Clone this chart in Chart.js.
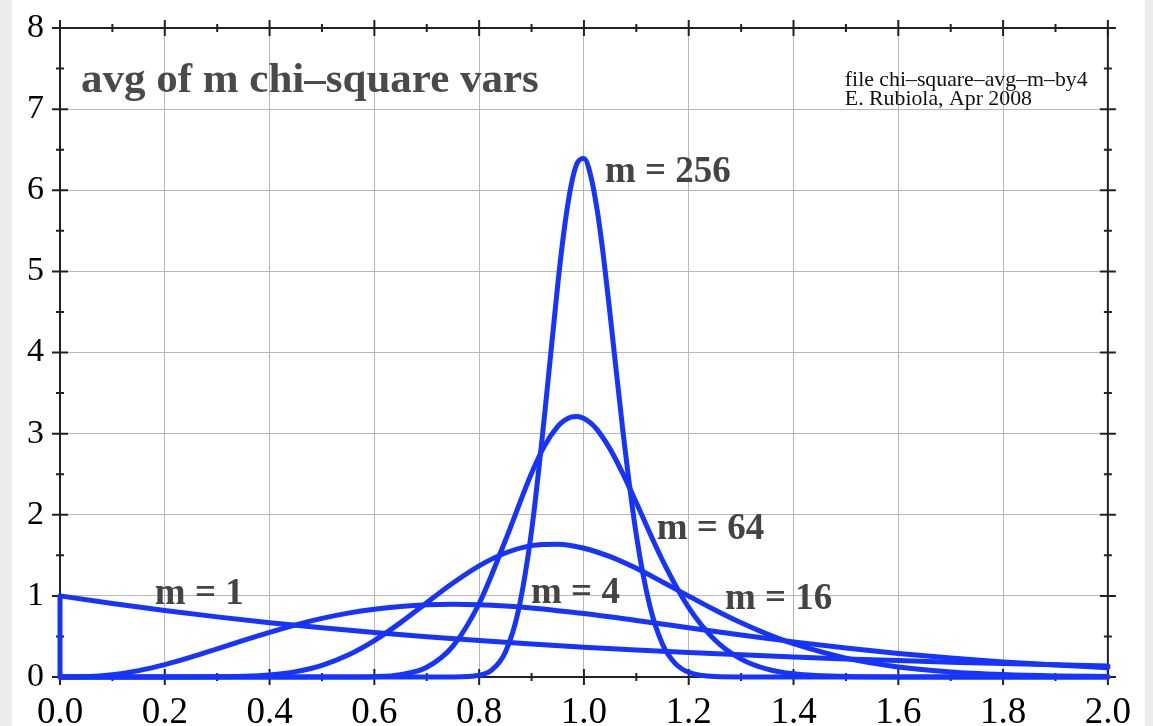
<!DOCTYPE html>
<html>
<head>
<meta charset="utf-8">
<script src="https://cdn.jsdelivr.net/npm/chart.js@4.4.1/dist/chart.umd.min.js"></script>
<style>
  html, body { margin: 0; padding: 0; background: #ececec; }
  #wrap { position: absolute; left: 12px; top: 0; width: 1133px; height: 726px; background: #fff; }
</style>
</head>
<body>
<div id="wrap"><canvas id="chart" width="1133" height="726"></canvas></div>
<script>
// values (x = average, y = density)
const x1 = [0, 0, 0.1, 0.2, 0.3, 0.4, 0.5, 0.6, 0.7, 0.8, 0.9, 1.0, 1.1, 1.2, 1.3, 1.4, 1.5, 1.6, 1.7, 1.8, 1.9, 2.0];
const y1 = [0, 1, 0.905, 0.819, 0.741, 0.670, 0.607, 0.549, 0.497, 0.449, 0.407, 0.368, 0.333, 0.301, 0.273, 0.247, 0.223, 0.202, 0.183, 0.165, 0.150, 0.135];

const x4 = [0, 0.05, 0.1, 0.15, 0.2, 0.25, 0.3, 0.35, 0.4, 0.45, 0.5, 0.55, 0.6, 0.65, 0.7, 0.75, 0.8, 0.85, 0.9, 0.95, 1.0, 1.1, 1.2, 1.3, 1.4, 1.5, 1.6, 1.7, 1.8, 1.9, 2.0];
const y4 = [0, 0.004, 0.029, 0.079, 0.153, 0.245, 0.347, 0.451, 0.551, 0.643, 0.722, 0.787, 0.836, 0.870, 0.890, 0.896, 0.891, 0.875, 0.850, 0.818, 0.782, 0.697, 0.607, 0.517, 0.433, 0.357, 0.290, 0.234, 0.186, 0.147, 0.115];

const x16 = [0, 0.1, 0.2, 0.3, 0.35, 0.4, 0.45, 0.5, 0.55, 0.6, 0.65, 0.7, 0.75, 0.8, 0.85, 0.9, 0.95, 1.0, 1.05, 1.1, 1.15, 1.2, 1.25, 1.3, 1.35, 1.4, 1.5, 1.6, 1.7, 1.8, 1.9, 2.0];
const y16 = [0, 0, 0, 0.002, 0.008, 0.025, 0.066, 0.144, 0.271, 0.449, 0.670, 0.916, 1.158, 1.370, 1.528, 1.619, 1.637, 1.587, 1.483, 1.339, 1.171, 0.997, 0.826, 0.668, 0.529, 0.410, 0.233, 0.124, 0.062, 0.030, 0.013, 0.006];

const x64 = [0, 0.5, 0.55, 0.6, 0.65, 0.7, 0.75, 0.8, 0.85, 0.9, 0.925, 0.95, 0.9625, 0.975, 0.9875, 1.0, 1.0125, 1.025, 1.05, 1.075, 1.1, 1.15, 1.2, 1.25, 1.3, 1.35, 1.4, 1.5, 1.6, 2.0];
const y64 = [0, 0, 0.0005, 0.004, 0.028, 0.121, 0.381, 0.906, 1.682, 2.512, 2.852, 3.089, 3.161, 3.203, 3.211, 3.187, 3.132, 3.050, 2.809, 2.497, 2.147, 1.439, 0.856, 0.457, 0.221, 0.097, 0.039, 0.005, 0.0005, 0];

const x256 = [0, 0.7, 0.75, 0.8, 0.825, 0.85, 0.875, 0.9, 0.925, 0.95, 0.9625, 0.975, 0.9875, 1.0, 1.0125, 1.025, 1.0375, 1.05, 1.075, 1.1, 1.125, 1.15, 1.175, 1.2, 1.25, 1.3, 2.0];
const y256 = [0, 0, 0.0006, 0.021, 0.091, 0.305, 0.823, 1.800, 3.238, 4.836, 5.523, 6.043, 6.340, 6.392, 6.191, 5.766, 5.171, 4.464, 2.995, 1.749, 0.895, 0.404, 0.162, 0.058, 0.005, 0.0003, 0];

// curve labels: text, x, y (data coords of baseline start)
const curveLabels = [
    ['m = 256', 1.040, 6.10],
    ['m = 64', 1.139, 1.703],
    ['m = 16', 1.269, 0.838],
    ['m = 4', 0.899, 0.91],
    ['m = 1', 0.181, 0.90],
];

const BLUE = '#1634ff';
const SERIF = '"Liberation Serif", "Times New Roman", serif';

function pts(xs, ys) {
    return xs.map((x, i) => ({ x: x, y: ys[i] }));
}

function curve(xs, ys, smooth) {
    return {
        data: pts(xs, ys),
        showLine: true,
        borderColor: BLUE,
        borderWidth: 5,
        pointRadius: 0,
        fill: false,
        clip: 6,
        tension: 0,
        cubicInterpolationMode: smooth ? 'monotone' : 'default',
        borderCapStyle: 'round',
        borderJoinStyle: 'round',
    };
}

// black frame + ticks on all four sides, under the curves
const framePlugin = {
    id: 'frame',
    beforeDatasetsDraw(chart) {
        const ctx = chart.ctx;
        const a = chart.chartArea;
        const xs = chart.scales.x;
        const ys = chart.scales.y;
        ctx.save();
        ctx.strokeStyle = '#222';
        ctx.lineWidth = 2;
        ctx.strokeRect(a.left, a.top, a.right - a.left, a.bottom - a.top);

        ctx.beginPath();
        for (let i = 0; i <= 20; i++) {
            const px = xs.getPixelForValue(i / 10);
            const len = i % 2 === 0 ? 8 : 4;
            ctx.moveTo(px, a.bottom - len); ctx.lineTo(px, a.bottom + len);
            ctx.moveTo(px, a.top - len); ctx.lineTo(px, a.top + len);
        }
        for (let i = 0; i <= 16; i++) {
            const py = ys.getPixelForValue(i / 2);
            const len = i % 2 === 0 ? 8 : 4;
            ctx.moveTo(a.left - len, py); ctx.lineTo(a.left + len, py);
            ctx.moveTo(a.right - len, py); ctx.lineTo(a.right + len, py);
        }
        ctx.stroke();
        ctx.restore();
    },
    afterDraw(chart) {
        const ctx = chart.ctx;
        const xs = chart.scales.x;
        const ys = chart.scales.y;
        ctx.save();
        ctx.textAlign = 'left';
        ctx.textBaseline = 'alphabetic';

        ctx.fillStyle = '#4a4a4a';
        ctx.font = 'bold 43px ' + SERIF;
        ctx.fillText('avg of m chi\u2013square vars', xs.getPixelForValue(0.040), ys.getPixelForValue(7.21));

        ctx.fillStyle = '#111';
        ctx.font = '21.8px ' + SERIF;
        ctx.fillText('file chi\u2013square\u2013avg\u2013m\u2013by4', xs.getPixelForValue(1.498), ys.getPixelForValue(7.287));
        ctx.fillText('E. Rubiola, Apr 2008', xs.getPixelForValue(1.498), ys.getPixelForValue(7.053));

        ctx.fillStyle = '#444';
        ctx.font = 'bold 37px ' + SERIF;
        curveLabels.forEach(([t, x, y]) => {
            ctx.fillText(t, xs.getPixelForValue(x), ys.getPixelForValue(y));
        });
        ctx.restore();
    }
};

new Chart(document.getElementById('chart'), {
    type: 'scatter',
    data: {
        datasets: [
            curve(x1, y1, false),
            curve(x4, y4, true),
            curve(x16, y16, true),
            curve(x64, y64, true),
            curve(x256, y256, true),
        ]
    },
    options: {
        responsive: false,
        animation: false,
        layout: { padding: { top: 28, right: 37, left: 0, bottom: 0 } },
        plugins: { legend: { display: false }, tooltip: { enabled: false } },
        scales: {
            x: {
                type: 'linear',
                min: 0,
                max: 2,
                ticks: {
                    stepSize: 0.2,
                    autoSkip: false,
                    maxRotation: 0,
                    padding: 14,
                    color: '#000',
                    font: { family: SERIF, size: 37 },
                    callback: v => v.toFixed(1),
                },
                grid: { color: '#b8b8b8', lineWidth: 1, drawTicks: false },
                border: { display: false },
                afterFit: s => { s.height = 49; },
            },
            y: {
                min: 0,
                max: 8,
                ticks: {
                    stepSize: 1,
                    padding: 16,
                    color: '#000',
                    font: { family: SERIF, size: 34, lineHeight: 0.6 },
                },
                grid: { color: '#b8b8b8', lineWidth: 1, drawTicks: false },
                border: { display: false },
                afterFit: s => { s.width = 48; },
            }
        }
    },
    plugins: [framePlugin]
});
</script>
</body>
</html>
